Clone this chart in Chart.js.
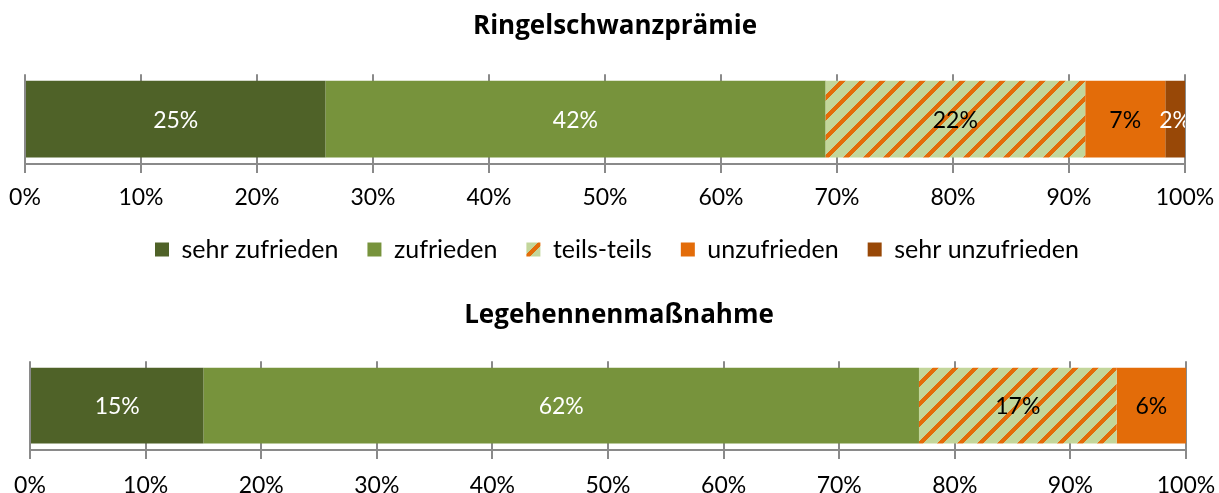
<!DOCTYPE html>
<html>
<head>
<meta charset="utf-8">
<script src="https://cdn.jsdelivr.net/npm/chart.js@4.4.0/dist/chart.umd.min.js"></script>
<style>
html,body{margin:0;padding:0;background:#fff;}
#w1{position:absolute;left:0;top:0;width:1219px;height:280px;}
#w2{position:absolute;left:0;top:280px;width:1219px;height:213px;}
</style>
</head>
<body>
<div id="w1"><canvas id="c1"></canvas></div>
<div id="w2"><canvas id="c2"></canvas></div>
<script>
const seriesNames = ['sehr zufrieden', 'zufrieden', 'teils-teils', 'unzufrieden', 'sehr unzufrieden'];
const titles = ['Ringelschwanzprämie', 'Legehennenmaßnahme'];
const ringelValues = [25.9, 43.1, 22.4, 6.9, 1.7];
const ringelLabels = ['25%', '42%', '22%', '7%', '2%'];
const legeValues = [15.0, 61.9, 17.1, 6.0, 0];
const legeLabels = ['15%', '62%', '17%', '6%', ''];
const tickValues = [0, 10, 20, 30, 40, 50, 60, 70, 80, 90, 100];

const FONT = 'Lato, "Open Sans", sans-serif';
const TITLE_FONT = '"Open Sans", Lato, sans-serif';
const ORANGE = '#E36C09';

function makeStripes() {
  const s = 20, w = 6;
  const c = document.createElement('canvas');
  c.width = s; c.height = s;
  const g = c.getContext('2d');
  const img = g.createImageData(s, s);
  const o = [0xE3, 0x6C, 0x09], l = [0xC3, 0xD6, 0x9B];
  for (let y = 0; y < s; y++) for (let x = 0; x < s; x++) {
    const t = (x + y) % s;
    const col = t < w ? o : l;
    const i = (y * s + x) * 4;
    img.data[i] = col[0]; img.data[i+1] = col[1]; img.data[i+2] = col[2]; img.data[i+3] = 255;
  }
  g.putImageData(img, 0, 0);
  return c;
}

const labelPlugin = {
  id: 'barLabels',
  afterDatasetsDraw(chart) {
    const ctx = chart.ctx, a = chart.chartArea;
    ctx.save();
    ctx.beginPath();
    ctx.rect(a.left, a.top, a.right - a.left, a.bottom - a.top);
    ctx.clip();
    ctx.font = '23px ' + FONT;
    ctx.textAlign = 'center';
    ctx.textBaseline = 'middle';
    chart.data.datasets.forEach((ds, di) => {
      const meta = chart.getDatasetMeta(di);
      meta.data.forEach((el, i) => {
        const txt = ds.valueLabels[i];
        if (!txt) return;
        ctx.fillStyle = ds.labelColor;
        ctx.fillText(txt, (el.x + el.base) / 2, el.y + 1);
      });
    });
    ctx.restore();
  }
};

// nudges the title / legend boxes horizontally after layout
const shiftPlugin = {
  id: 'shiftBoxes',
  afterLayout(chart, args, opts) {
    const t = chart.titleBlock;
    if (t && opts.title) { t.left += opts.title; t.right += opts.title; }
    const l = chart.legend;
    if (l && opts.legend) { l.left += opts.legend; l.right += opts.legend; }
  }
};

function build(canvasId, title, values, labels, showLegend, cfg) {
  const ctx = document.getElementById(canvasId).getContext('2d');
  const stripes = ctx.createPattern(makeStripes(), 'repeat');
  const colors = ['#4F6228', '#77933C', stripes, ORANGE, '#984807'];
  const labelColors = ['#ffffff', '#ffffff', '#000000', '#000000', '#ffffff'];
  const datasets = seriesNames.map((n, i) => ({
    label: n,
    data: [values[i]],
    valueLabels: [labels[i]],
    labelColor: labelColors[i],
    backgroundColor: colors[i],
    borderWidth: 0,
    barPercentage: 0.855,
    categoryPercentage: 1.0
  }));
  return new Chart(ctx, {
    type: 'bar',
    data: { labels: [title], datasets },
    plugins: [labelPlugin, shiftPlugin],
    options: {
      indexAxis: 'y',
      responsive: true,
      maintainAspectRatio: false,
      animation: false,
      layout: { padding: cfg.pad },
      plugins: {
        shiftBoxes: cfg.shift,
        title: {
          display: true, text: title, color: '#000',
          font: { family: TITLE_FONT, size: 26, weight: 'bold', lineHeight: 1.2 },
          padding: cfg.titlePad
        },
        legend: {
          display: showLegend, position: 'bottom',
          labels: {
            color: '#000', font: { family: FONT, size: 25 },
            boxWidth: 14, boxHeight: 14, padding: 29
          }
        },
        tooltip: { enabled: false }
      },
      scales: {
        x: {
          stacked: true, min: 0, max: 100,
          afterBuildTicks: (s) => { s.ticks = tickValues.map(v => ({ value: v })); },
          afterFit: (s) => { s.height = cfg.axisH; },
          ticks: {
            color: '#000', font: { family: FONT, size: 23, lineHeight: cfg.tickLH }, padding: 2,
            maxRotation: 0, autoSkip: false,
            callback: (v) => v + '%'
          },
          grid: { color: '#8a8a8a', lineWidth: 2, tickLength: 9, drawOnChartArea: true },
          border: { color: '#8a8a8a', width: 2 }
        },
        y: { stacked: true, display: false }
      }
    }
  });
}

build('c1', titles[0], ringelValues, ringelLabels, true, {
  pad: { left: 25, right: 34, top: 0, bottom: 8 },
  titlePad: { top: 11, bottom: 32 }, axisH: 44, tickLH: 1.98,
  shift: { title: 10, legend: 12 }
});
build('c2', titles[1], legeValues, legeLabels, false, {
  pad: { left: 30, right: 33, top: 0, bottom: 0 },
  titlePad: { top: 20, bottom: 30 }, axisH: 43, tickLH: 2.16,
  shift: { title: 11, legend: 0 }
});
</script>
</body>
</html>
